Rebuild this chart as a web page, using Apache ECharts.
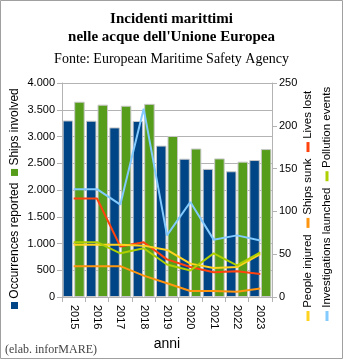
<!DOCTYPE html>
<html>
<head>
<meta charset="utf-8">
<script src="https://cdn.jsdelivr.net/npm/echarts@6/dist/echarts.min.js"></script>
<style>
  html, body { margin: 0; padding: 0; background: #ffffff; }
  #chart { width: 343px; height: 359px; }
</style>
</head>
<body>
<div id="chart"></div>
<script>
// Maritime incidents in EU waters, 2015-2023 (EMSA)
const years = ['2015', '2016', '2017', '2018', '2019', '2020', '2021', '2022', '2023'];

// left axis (bars)
const occurrencesReported = [3300, 3295, 3170, 3290, 2830, 2585, 2395, 2350, 2560];
const shipsInvolved       = [3650, 3595, 3575, 3610, 3010, 2775, 2590, 2530, 2765];

// right axis (lines)
const livesLost               = [115, 115, 59, 64, 44, 35, 29, 30, 27];
const shipsSunk               = [36, 36, 36, 25, 16, 7, 7, 6, 10];
const peopleInjured           = [61, 61, 61, 60, 55, 39, 34, 35, 50];
const investigationsLaunched  = [126, 126, 108, 220, 72, 111, 67, 72, 66];
const pollutionEvents         = [64, 64, 51, 57, 38, 31, 51, 37, 52];

const leftTicks  = { min: 0, max: 4000, interval: 500 };
const rightTicks = { min: 0, max: 250, interval: 50 };

const C = {
  occ: '#004586', ships: '#579d1c', lives: '#ff420e', sunk: '#ff950e',
  injured: '#ffd320', invest: '#83caff', pollution: '#aecf00'
};

const SANS = '"Liberation Sans", Arial, sans-serif';
const SERIF = '"Liberation Serif", "Times New Roman", serif';
const grid = '#b3b3b3';

function thousands(v) {
  return String(v).replace(/\B(?=(\d{3})+(?!\d))/g, '.');
}

const chart = echarts.init(document.getElementById('chart'), null, { renderer: 'canvas' });

function barSeries(name, data, color) {
  return {
    name, type: 'bar', yAxisIndex: 0, data,
    barWidth: 10.5, barGap: '10%',
    itemStyle: { color, borderColor: '#c8c8c8', borderWidth: 1 },
    z: 2
  };
}
function lineSeries(name, data, color) {
  return {
    name, type: 'line', yAxisIndex: 1, data,
    symbol: 'none', lineStyle: { color, width: 2 }, itemStyle: { color },
    z: 3
  };
}

const sq = (color) => ({ width: 7, height: 7, backgroundColor: color });
const bar = (color) => ({ width: 10, height: 3, backgroundColor: color });

chart.setOption({
  animation: false,
  backgroundColor: '#ffffff',
  textStyle: { fontFamily: SANS },
  grid: { left: 62, right: 71, top: 83, bottom: 62, containLabel: false },
  xAxis: {
    type: 'category', data: years,
    name: 'anni', nameLocation: 'middle', nameGap: 38,
    nameTextStyle: { fontFamily: SANS, fontSize: 14, color: '#000' },
    axisLine: { show: true, lineStyle: { color: grid } },
    axisTick: { show: true, length: 5, lineStyle: { color: grid } },
    axisLabel: { rotate: -90, fontSize: 11, color: '#000', margin: 8, fontFamily: SANS }
  },
  yAxis: [
    {
      type: 'value', position: 'left',
      min: leftTicks.min, max: leftTicks.max, interval: leftTicks.interval,
      axisLine: { show: true, lineStyle: { color: grid } },
      axisTick: { show: true, length: 5, lineStyle: { color: grid } },
      splitLine: { show: true, lineStyle: { color: grid } },
      axisLabel: { fontSize: 11, color: '#000', margin: 7, formatter: thousands, fontFamily: SANS }
    },
    {
      type: 'value', position: 'right',
      min: rightTicks.min, max: rightTicks.max, interval: rightTicks.interval,
      axisLine: { show: true, lineStyle: { color: grid } },
      axisTick: { show: true, length: 5, lineStyle: { color: grid } },
      splitLine: { show: false },
      axisLabel: { fontSize: 11, color: '#000', margin: 7, fontFamily: SANS }
    }
  ],
  series: [
    barSeries('Occurrences reported', occurrencesReported, C.occ),
    barSeries('Ships involved', shipsInvolved, C.ships),
    lineSeries('Investigations launched', investigationsLaunched, C.invest),
    lineSeries('Lives lost', livesLost, C.lives),
    lineSeries('Ships sunk', shipsSunk, C.sunk),
    lineSeries('People injured', peopleInjured, C.injured),
    lineSeries('Pollution events', pollutionEvents, C.pollution)
  ],
  graphic: [
    { type: 'rect', shape: { x: 0.5, y: 0.5, width: 342, height: 358 },
      style: { fill: 'none', stroke: '#a0a0a0', lineWidth: 1 }, silent: true, z: 100 },
    { type: 'text', x: 171.5, y: 19, style: { text: 'Incidenti marittimi', font: 'bold 15px ' + SERIF, fill: '#000', align: 'center', verticalAlign: 'middle' } },
    { type: 'text', x: 171.5, y: 37, style: { text: "nelle acque dell'Unione Europea", font: 'bold 15px ' + SERIF, fill: '#000', align: 'center', verticalAlign: 'middle' } },
    { type: 'text', x: 171.5, y: 59, style: { text: 'Fonte: European Maritime Safety Agency', font: '14px ' + SERIF, fill: '#000', align: 'center', verticalAlign: 'middle' } },
    { type: 'text', x: 5, y: 350, style: { text: '(elab. inforMARE)', font: '12px ' + SERIF, fill: '#444', align: 'left', verticalAlign: 'middle' } },
    // left legend (bars), reading bottom to top
    { type: 'text', x: 14.5, y: 309, rotation: Math.PI / 2,
      style: {
        text: '{a|} Occurrences reported  {b|} Ships involved',
        font: '12px ' + SANS, fill: '#000', align: 'left', verticalAlign: 'middle',
        rich: { a: sq(C.occ), b: sq(C.ships) }
      } },
    // right legend (lines), two columns
    { type: 'text', x: 308, y: 321, rotation: Math.PI / 2,
      style: {
        text: '{y|} People injured  {o|} Ships sunk  {r|} Lives lost',
        font: '11.5px ' + SANS, fill: '#000', align: 'left', verticalAlign: 'middle',
        rich: { y: bar(C.injured), o: bar(C.sunk), r: bar(C.lives) }
      } },
    { type: 'text', x: 327, y: 321, rotation: Math.PI / 2,
      style: {
        text: '{i|} Investigations launched  {p|} Pollution events',
        font: '11.5px ' + SANS, fill: '#000', align: 'left', verticalAlign: 'middle',
        rich: { i: bar(C.invest), p: bar(C.pollution) }
      } }
  ]
});
</script>
</body>
</html>
